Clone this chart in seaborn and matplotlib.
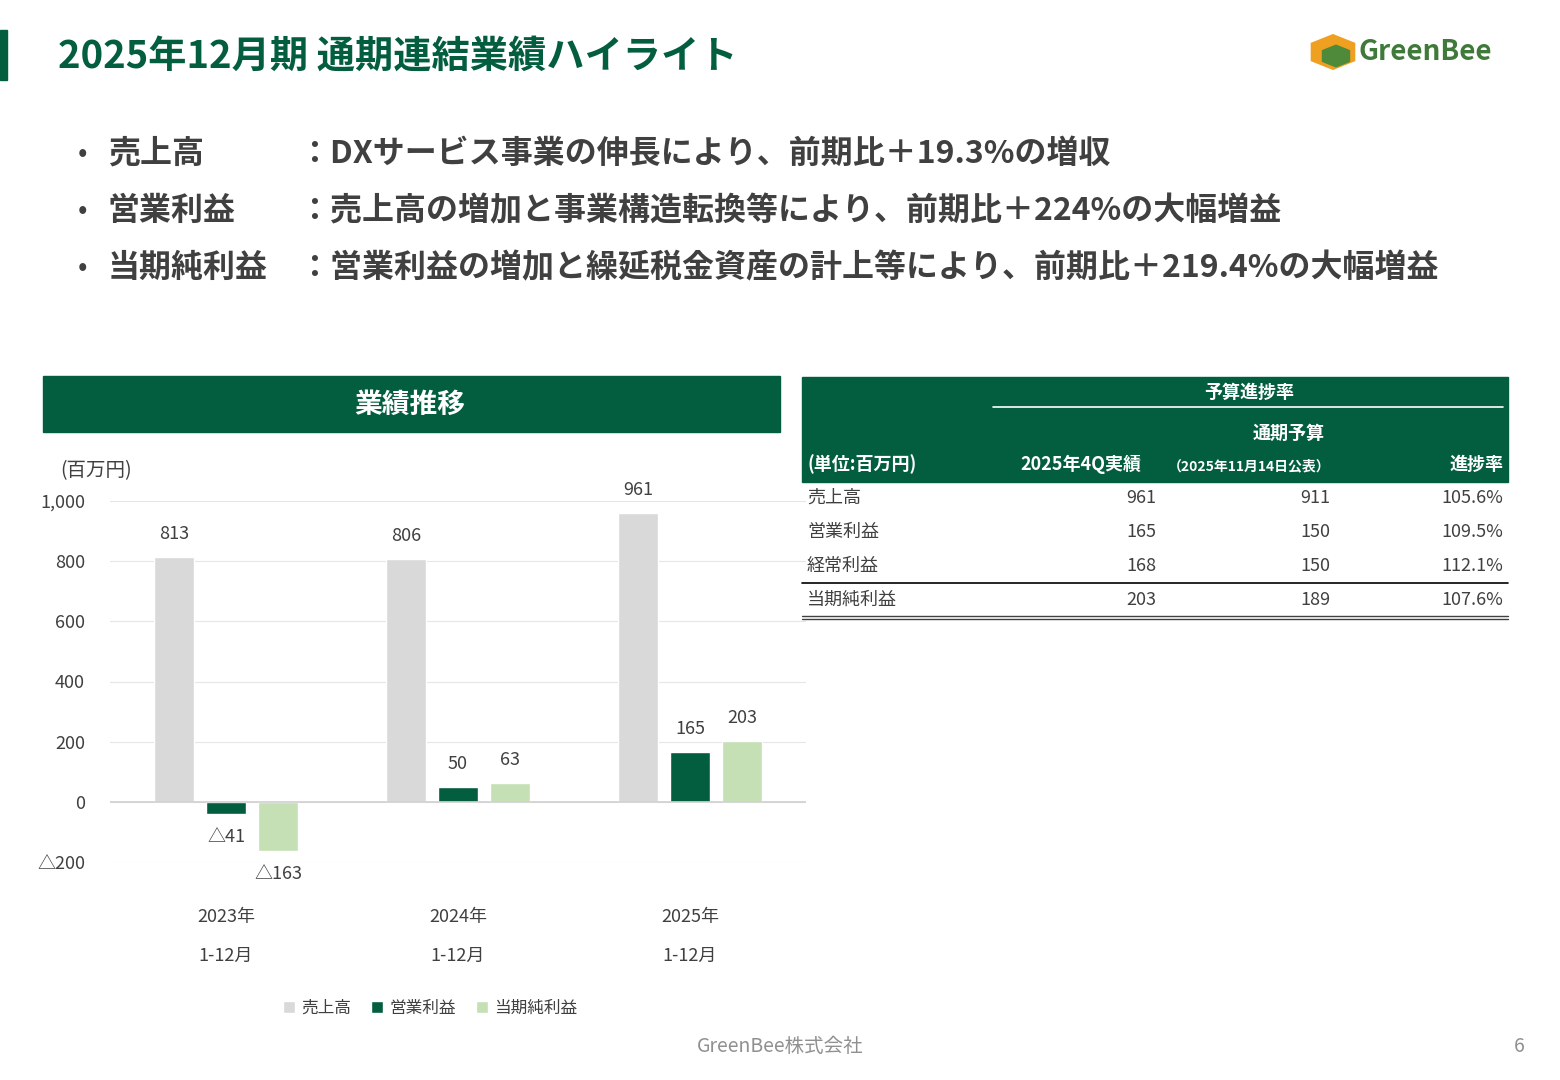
import matplotlib
matplotlib.use("Agg")
import matplotlib.pyplot as plt
import seaborn as sns
import pandas as pd
from matplotlib.patches import Rectangle, RegularPolygon

sns.set_theme(style="white")
plt.rcParams['font.family'] = ['Noto Sans CJK JP', 'DejaVu Sans']

years = ["2023年\n1-12月", "2024年\n1-12月", "2025年\n1-12月"]
series = ["売上高", "営業利益", "当期純利益"]
sales = [813, 806, 961]
op_profit = [-41, 50, 165]
net_profit = [-163, 63, 203]
colors = ["#d9d9d9", "#035e3f", "#c5e0b4"]
ytick_vals = [-200, 0, 200, 400, 600, 800, 1000]
ytick_labels = ["△200", "0", "200", "400", "600", "800", "1,000"]

tbl_rows = ["売上高", "営業利益", "経常利益", "当期純利益"]
tbl_actual = ["961", "165", "168", "203"]
tbl_budget = ["911", "150", "150", "189"]
tbl_rate = ["105.6%", "109.5%", "112.1%", "107.6%"]

bullets = [("売上高", "：DXサービス事業の伸長により、前期比＋19.3%の増収"),
           ("営業利益", "：売上高の増加と事業構造転換等により、前期比＋224%の大幅増益"),
           ("当期純利益", "：営業利益の増加と繰延税金資産の計上等により、前期比＋219.4%の大幅増益")]

GREEN = "#035e3f"
W, H = 1560, 1080
fig = plt.figure(figsize=(15.6, 10.8), dpi=100)

def fx(x): return x / W
def fy(y): return 1 - y / H

# header
fig.patches.append(Rectangle((0, fy(80)), fx(7), (80 - 30) / H, transform=fig.transFigure, color=GREEN))
fig.text(fx(58), fy(56), "2025年12月期 通期連結業績ハイライト", fontsize=27.5, fontweight="bold", color=GREEN, va="center")
# logo
fig.patches.append(RegularPolygon((fx(1333), fy(52)), numVertices=6, radius=0.016, orientation=0,
                                  transform=fig.transFigure, color="#f0a020"))
fig.patches.append(RegularPolygon((fx(1336), fy(56)), numVertices=6, radius=0.010, orientation=0,
                                  transform=fig.transFigure, color="#4f8a3a"))
fig.text(fx(1358), fy(52), "GreenBee", fontsize=20, fontweight="bold", color="#3f7a3a", va="center")

# bullets
for i, (a, b) in enumerate(bullets):
    y = fy(154 + 57 * i)
    fig.text(fx(78), y, "•", fontsize=20, color="#404040", va="center")
    fig.text(fx(108), y, a, fontsize=23, fontweight="bold", color="#404040", va="center")
    fig.text(fx(298), y, b, fontsize=23, fontweight="bold", color="#404040", va="center")

# chart header
fig.patches.append(Rectangle((fx(43), fy(432)), fx(780 - 43), (432 - 376) / H, transform=fig.transFigure, color=GREEN))
fig.text(fx(410), fy(405), "業績推移", fontsize=20, fontweight="bold", color="white", ha="center", va="center")
fig.text(fx(60), fy(471), "(百万円)", fontsize=14, color="#404040", va="center")

df = pd.DataFrame({
    "year": years * 3,
    "series": [s for s in series for _ in years],
    "value": sales + op_profit + net_profit,
})
ax = fig.add_axes([fx(110), fy(862), fx(806 - 110), (862 - 501) / H])
sns.barplot(data=df, x="year", y="value", hue="series", hue_order=series, palette=colors,
            width=0.672, gap=0.23, ax=ax, legend=True, saturation=1)
ax.set_xlim(-0.5, 2.5)
ax.set_ylim(-200, 1000)
ax.set_yticks(ytick_vals)
ax.set_yticklabels(ytick_labels, fontsize=13, color="#404040")
ax.tick_params(axis="y", length=0, pad=18)
ax.tick_params(axis="x", length=0, pad=33)
for lab in ax.get_xticklabels():
    lab.set_fontsize(13); lab.set_color("#404040"); lab.set_linespacing(2.5)
ax.grid(axis="y", color="#e6e6e6", lw=0.8)
ax.axhline(0, color="#d0d0d0", lw=1.2)
for s in ax.spines.values():
    s.set_visible(False)
ax.set_xlabel(""); ax.set_ylabel("")
allvals = [sales, op_profit, net_profit]
for cont, vals in zip(ax.containers, allvals):
    labs = [("△%d" % -v) if v < 0 else str(v) for v in vals]
    ax.bar_label(cont, labels=labs, padding=10, fontsize=13, color="#404040")
leg = ax.legend(loc="upper center", bbox_to_anchor=(0.46, -0.34), ncol=3, frameon=False,
                fontsize=12, handlelength=0.7, handleheight=0.7, handletextpad=0.4, columnspacing=1.2)
for t in leg.get_texts():
    t.set_color("#404040")

# table
fig.patches.append(Rectangle((fx(802), fy(482)), fx(1508 - 802), (482 - 377) / H, transform=fig.transFigure, color=GREEN))
fig.add_artist(plt.Line2D([fx(993), fx(1503)], [fy(407), fy(407)], color="white", lw=1.2, transform=fig.transFigure))
fig.text(fx(1249), fy(392), "予算進捗率", fontsize=13, fontweight="bold", color="white", ha="center", va="center")
fig.text(fx(1289), fy(433), "通期予算", fontsize=13, fontweight="bold", color="white", ha="center", va="center")
fig.text(fx(807), fy(464), "(単位:百万円)", fontsize=13, fontweight="bold", color="white", va="center")
fig.text(fx(1020), fy(464), "2025年4Q実績", fontsize=13, fontweight="bold", color="white", va="center")
fig.text(fx(1330), fy(466), "（2025年11月14日公表）", fontsize=10, fontweight="bold", color="white", ha="right", va="center")
fig.text(fx(1503), fy(464), "進捗率", fontsize=13, fontweight="bold", color="white", ha="right", va="center")
for i, r in enumerate(tbl_rows):
    y = fy(498 + 34 * i)
    fig.text(fx(807), y, r, fontsize=13, color="#404040", va="center")
    fig.text(fx(1156), y, tbl_actual[i], fontsize=13, color="#404040", ha="right", va="center")
    fig.text(fx(1330), y, tbl_budget[i], fontsize=13, color="#404040", ha="right", va="center")
    fig.text(fx(1503), y, tbl_rate[i], fontsize=13, color="#404040", ha="right", va="center")
fig.add_artist(plt.Line2D([fx(802), fx(1508)], [fy(583), fy(583)], color="black", lw=1.2, transform=fig.transFigure))
fig.add_artist(plt.Line2D([fx(802), fx(1508)], [fy(616), fy(616)], color="#404040", lw=1, transform=fig.transFigure))
fig.add_artist(plt.Line2D([fx(802), fx(1508)], [fy(619), fy(619)], color="#404040", lw=1, transform=fig.transFigure))

# footer
fig.text(fx(780), fy(1047), "GreenBee株式会社", fontsize=14, color="#909090", ha="center", va="center")
fig.text(fx(1519), fy(1047), "6", fontsize=14, color="#909090", ha="center", va="center")

fig.savefig("out.png", dpi=100)
